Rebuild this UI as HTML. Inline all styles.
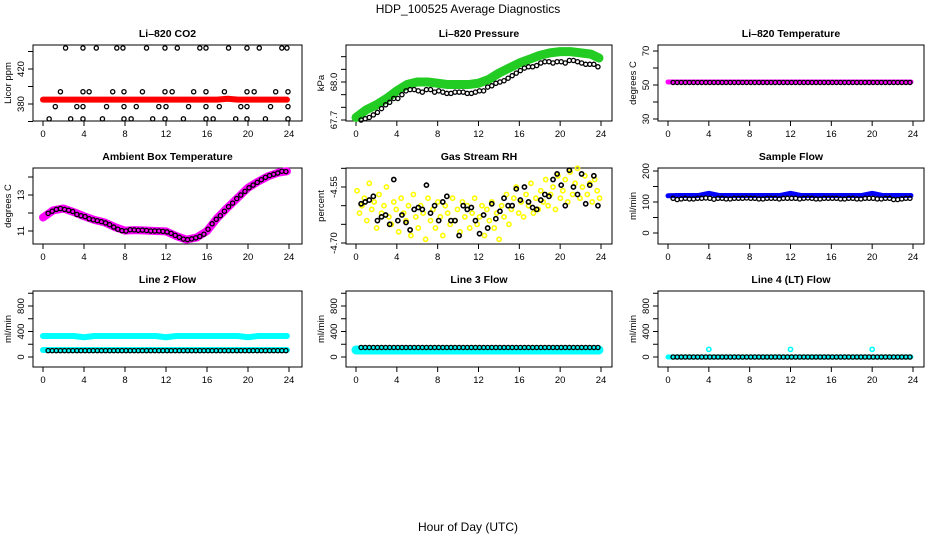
<!DOCTYPE html>
<html><head><meta charset="utf-8"><style>
html,body{margin:0;padding:0;background:#fff;}
svg{display:block;font-family:"Liberation Sans",Arial,sans-serif;}
</style></head><body>
<svg id="chart" width="936" height="540" viewBox="0 0 936 540" xmlns="http://www.w3.org/2000/svg">
<text x="468" y="13" text-anchor="middle" font-size="12">HDP_100525  Average Diagnostics</text>
<text x="468" y="531" text-anchor="middle" font-size="12">Hour of Day (UTC)</text>
</svg>
<script>
const xTicks = [0,4,8,12,16,20,24];
const hrs = []; for (let k = 0; k < 59; k++) hrs.push(+(0.5 + 0.4*k).toFixed(1));
const bandHours = [0,1,2,3,4,5,6,7,8,9,10,11,12,13,14,15,16,17,18,19,20,21,22,23,23.8];

// CO2
const co2Hours = [2.2,3.9,5.2,7.2,7.8,10.1,11.9,13.1,15.3,15.9,18.1,19.9,21.1,23.3,23.8,
 1.7,3.9,4.5,6.8,7.9,9.7,11.9,12.6,14.7,15.9,17.7,19.9,20.6,22.7,23.9,
 1.2,3.3,3.9,6.2,7.9,9.1,11.3,12.0,14.2,15.9,17.2,19.3,19.9,22.2,23.9,
 0.6,2.7,3.9,5.8,7.9,8.6,10.7,11.9,13.7,15.9,16.6,18.8,19.9,21.7,23.9];
const co2Values = [444,444,444,444,444,444,444,444,444,444,444,444,444,444,444,
 394,394,394,394,394,394,394,394,394,394,394,394,394,394,394,
 377,377,377,377,377,377,377,377,377,377,377,377,377,377,377,
 363,363,363,363,363,363,363,363,363,363,363,363,363,363,363];
const co2Band = [385,385,385,385,385,385,385,385,385,385,385,385,385,385,385,385,385,385,386,385,385,385,385,385,385];

// Pressure
const presValues = [67.70,67.71,67.72,67.74,67.76,67.79,67.82,67.84,67.87,67.87,67.90,67.93,67.94,67.94,67.93,67.92,67.94,67.94,67.92,67.93,67.92,67.91,67.91,67.92,67.92,67.92,67.91,67.91,67.92,67.93,67.93,67.96,67.97,67.99,68.00,68.01,68.03,68.05,68.07,68.09,68.11,68.12,68.12,68.13,68.15,68.16,68.16,68.15,68.16,68.16,68.15,68.17,68.17,68.16,68.15,68.14,68.14,68.14,68.12];
const presBand = [67.72,67.78,67.82,67.87,67.93,67.98,68.00,68.00,67.99,67.98,67.98,67.98,67.99,68.02,68.07,68.11,68.15,68.18,68.21,68.23,68.24,68.24,68.23,68.22,68.19];

// Li-820 temperature
const tempValues = [51.5,51.5,51.5,51.5,51.5,51.5,51.5,51.5,51.5,51.5,51.5,51.5,51.5,51.5,51.5,51.5,51.5,51.5,51.5,51.5,51.5,51.5,51.5,51.5,51.5,51.5,51.5,51.5,51.5,51.5,51.5,51.5,51.5,51.5,51.5,51.5,51.5,51.5,51.5,51.5,51.5,51.5,51.5,51.5,51.5,51.5,51.5,51.5,51.5,51.5,51.5,51.5,51.5,51.5,51.5,51.5,51.5,51.5,51.5];
const tempBand = [51.8,51.8,51.8,51.8,51.8,51.8,51.8,51.8,51.8,51.8,51.8,51.8,51.8,51.8,51.8,51.8,51.8,51.8,51.8,51.8,51.8,51.8,51.8,51.8,51.8];

// Ambient box temperature
const ambValues = [11.98,12.10,12.20,12.25,12.20,12.15,12.08,11.92,11.85,11.80,11.68,11.62,11.57,11.52,11.45,11.35,11.22,11.10,11.02,11.00,11.07,11.06,11.04,11.05,11.03,11.00,11.00,11.00,10.98,10.95,10.87,10.76,10.65,10.55,10.52,10.56,10.62,10.70,10.82,11.10,11.40,11.65,11.85,12.10,12.35,12.55,12.80,13.00,13.20,13.40,13.55,13.70,13.85,13.98,14.08,14.15,14.22,14.32,14.30];
const ambBand = [11.75,12.15,12.25,12.05,11.82,11.62,11.48,11.22,11.02,11.05,11.03,11.00,10.98,10.72,10.52,10.64,11.00,11.72,12.30,12.85,13.40,13.75,14.05,14.25,14.32];

// Gas stream RH
const rhValues = [-4.595,-4.59,-4.585,-4.575,-4.64,-4.63,-4.625,-4.65,-4.53,-4.64,-4.625,-4.645,-4.665,-4.61,-4.605,-4.61,-4.545,-4.62,-4.60,-4.64,-4.59,-4.575,-4.64,-4.64,-4.68,-4.60,-4.61,-4.605,-4.64,-4.675,-4.625,-4.66,-4.595,-4.635,-4.615,-4.58,-4.60,-4.60,-4.555,-4.585,-4.55,-4.59,-4.605,-4.61,-4.585,-4.57,-4.575,-4.53,-4.515,-4.545,-4.60,-4.505,-4.55,-4.57,-4.515,-4.595,-4.545,-4.52,-4.60];
const rhYellow = [-4.56,-4.62,-4.60,-4.58,-4.64,-4.54,-4.61,-4.59,-4.66,-4.57,-4.62,-4.60,-4.55,-4.63,-4.65,-4.59,-4.61,-4.67,-4.58,-4.62,-4.64,-4.60,-4.68,-4.57,-4.63,-4.66,-4.60,-4.62,-4.69,-4.58,-4.64,-4.61,-4.66,-4.59,-4.63,-4.68,-4.60,-4.62,-4.65,-4.58,-4.64,-4.61,-4.67,-4.59,-4.63,-4.60,-4.66,-4.62,-4.58,-4.65,-4.63,-4.60,-4.68,-4.61,-4.64,-4.59,-4.66,-4.62,-4.69,-4.60,-4.63,-4.57,-4.65,-4.61,-4.58,-4.55,-4.62,-4.59,-4.63,-4.57,-4.60,-4.54,-4.62,-4.58,-4.61,-4.56,-4.59,-4.53,-4.60,-4.57,-4.55,-4.61,-4.52,-4.58,-4.56,-4.53,-4.59,-4.51,-4.57,-4.54,-4.50,-4.58,-4.55,-4.52,-4.57,-4.54,-4.59,-4.53,-4.56,-4.58];

// Sample flow
const sampleValues = [112,108,110,112,110,110,112,112,113,112,109,112,112,110,110,112,112,112,113,112,112,110,110,112,112,112,110,112,112,112,112,110,112,113,112,110,110,112,112,112,112,110,110,112,112,110,110,112,112,112,110,110,112,112,108,108,110,112,112];
const sampleBand = [120,121,121,121,128,121,121,121,121,121,121,121,128,121,121,121,121,121,121,121,128,121,121,121,121];

// Line flows
const line2Values = [100,100,100,100,100,100,100,100,100,100,100,100,100,100,100,100,100,100,100,100,100,100,100,100,100,100,100,100,100,100,100,100,100,100,100,100,100,100,100,100,100,100,100,100,100,100,100,100,100,100,100,100,100,100,100,100,100,100,100];
const line2BandHigh = [330,330,330,330,310,330,330,330,330,330,330,330,310,330,330,330,330,330,330,330,310,330,330,330,330];
const line2BandLow = [110,110,110,110,110,110,110,110,110,110,110,110,110,110,110,110,110,110,110,110,110,110,110,110,110];
const line3Values = [150,150,150,150,150,150,150,150,150,150,150,150,150,150,150,150,150,150,150,150,150,150,150,150,150,150,150,150,150,150,150,150,150,150,150,150,150,150,150,150,150,150,150,150,150,150,150,150,150,150,150,150,150,150,150,150,150,150,150];
const line3Band = [110,110,110,110,110,110,110,110,110,110,110,110,110,110,110,110,110,110,110,110,110,110,110,110,110];
const line4Values = [0,0,0,0,0,0,0,0,0,0,0,0,0,0,0,0,0,0,0,0,0,0,0,0,0,0,0,0,0,0,0,0,0,0,0,0,0,0,0,0,0,0,0,0,0,0,0,0,0,0,0,0,0,0,0,0,0,0,0];
const line4Band = [0,0,0,0,0,0,0,0,0,0,0,0,0,0,0,0,0,0,0,0,0,0,0,0,0];
const line4BlipHours = [4,12,20];
const line4BlipValues = [120,120,120];

const yTicks = {
  co2: [360,380,400,420,440], co2Lab: ['380','420'],
  pres: [67.7,67.8,67.9,68.0,68.1,68.2], presLab: ['67.7','68.0'],
  temp: [30,40,50,60,70], tempLab: ['30','50','70'],
  amb: [11,12,13,14], ambLab: ['11','13'],
  rh: [-4.70,-4.65,-4.60,-4.55,-4.50], rhLab: ['-4.55','-4.70'],
  samp: [0,50,100,150,200], sampLab: ['0','100','200'],
  flow: [0,200,400,600,800,1000], flowLab: ['0','400','800']
};

const svg = document.getElementById('chart');
const NS = 'http://www.w3.org/2000/svg';
function mk(tag, attrs, parent) {
  const e = document.createElementNS(NS, tag);
  for (const k in attrs) e.setAttribute(k, attrs[k]);
  (parent || svg).appendChild(e);
  return e;
}
const cols = [{x0:43,x24:289,L:33,R:302},{x0:356,x24:601,L:346,R:612},{x0:668,x24:913,L:658,R:924}];
const rows = [{T:45,B:121},{T:168,B:244},{T:291,B:367}];

function panel(name, c, r, title, ylab, cal, ticks, labs) {
  const C = cols[c], Rw = rows[r];
  const g = mk('g', {});
  
  
  const sx = h => C.x0 + h * (C.x24 - C.x0) / 24;
  const sy = v => cal[1] + (v - cal[0]) * (cal[3] - cal[1]) / (cal[2] - cal[0]);
  const box = mk('rect', {x:C.L, y:Rw.T, width:C.R-C.L, height:Rw.B-Rw.T, fill:'none', stroke:'#000', 'stroke-width':1}, g);
  
  
  const t = mk('text', {x:(C.L+C.R)/2, y:Rw.T-8, 'text-anchor':'middle', 'font-size':10.5, 'font-weight':'bold'}, g);
  t.textContent = title;
  
  
  const xa = mk('g', {}, g);
  
  
  xTicks.forEach(h => {
    mk('line', {x1:sx(h), x2:sx(h), y1:Rw.B, y2:Rw.B+5, stroke:'#000'}, xa);
    const tl = mk('text', {x:sx(h), y:Rw.B+16, 'text-anchor':'middle', 'font-size':9.5}, xa);
    tl.textContent = String(h);
  });
  const ya = mk('g', {}, g);
  
  
  ticks.forEach(v => {
    const y = sy(v);
    if (y < Rw.T - 1 || y > Rw.B + 1) return;
    mk('line', {x1:C.L-5, x2:C.L, y1:y, y2:y, stroke:'#000'}, ya);
  });
  labs.forEach(s => {
    const y = sy(parseFloat(s));
    const tl = mk('text', {x:C.L-9, y:y, 'text-anchor':'middle', 'font-size':9.5, transform:`rotate(-90 ${C.L-9} ${y})`}, ya);
    tl.textContent = s;
  });
  const yl = mk('text', {x:C.L-22, y:(Rw.T+Rw.B)/2, 'text-anchor':'middle', 'font-size':9.5, transform:`rotate(-90 ${C.L-22} ${(Rw.T+Rw.B)/2})`}, g);
  yl.textContent = ylab;
  
  
  return {g, sx, sy};
}
function band(p, name, hs, vs, color, w) {
  const pts = hs.map((h,i) => p.sx(h) + ',' + p.sy(vs[i])).join(' ');
  const l = mk('polyline', {points:pts, fill:'none', stroke:color, 'stroke-width':w, 'stroke-linejoin':'round', 'stroke-linecap':'round'}, p.g);
  
  
}
function dots(p, name, hs, vs, color, sw) {
  const gg = mk('g', {}, p.g);
  
  
  const n = Math.min(hs.length, vs.length);
  for (let i = 0; i < n; i++) {
    mk('circle', {cx:p.sx(hs[i]), cy:p.sy(vs[i]), r:2.1, fill:'none', stroke:color, 'stroke-width':sw || 1.3}, gg);
  }
}
const yellowHours = []; for (let k = 0; k < 100; k++) yellowHours.push(+(0.1 + 0.24*k).toFixed(2));

let p;
p = panel('co2', 0, 0, 'Li\u2013820 CO2', 'Licor ppm', [380,104,420,69], yTicks.co2, yTicks.co2Lab);
band(p, 'co2-band-series', bandHours, co2Band, '#ff0000', 6);
dots(p, 'co2-points', co2Hours, co2Values, '#000');

p = panel('pressure', 1, 0, 'Li\u2013820 Pressure', 'kPa', [67.7,120,68.0,82], yTicks.pres, yTicks.presLab);
band(p, 'pressure-band-series', bandHours, presBand, '#22cc22', 9);
dots(p, 'pressure-points', hrs, presValues, '#000');

p = panel('temperature', 2, 0, 'Li\u2013820 Temperature', 'degrees C', [30,119,70,51], yTicks.temp, yTicks.tempLab);
band(p, 'temperature-band-series', bandHours, tempBand, '#ff00ff', 5);
dots(p, 'temperature-points', hrs, tempValues, '#000');

p = panel('ambient', 0, 1, 'Ambient Box Temperature', 'degrees C', [11,231,13,195], yTicks.amb, yTicks.ambLab);
band(p, 'ambient-band-series', bandHours, ambBand, '#ff00ff', 8);
dots(p, 'ambient-points', hrs, ambValues, '#000');

p = panel('rh', 1, 1, 'Gas Stream RH', 'percent', [-4.70,243,-4.55,187], yTicks.rh, yTicks.rhLab);
dots(p, 'rh-yellow-points', yellowHours, rhYellow, '#ffff00', 1.6);
dots(p, 'rh-points', hrs, rhValues, '#000', 1.6);

p = panel('sample-flow', 2, 1, 'Sample Flow', 'ml/min', [0,233,200,171], yTicks.samp, yTicks.sampLab);
band(p, 'sample-flow-band-series', bandHours, sampleBand, '#0000ff', 5);
dots(p, 'sample-flow-points', hrs, sampleValues, '#000');

p = panel('line2', 0, 2, 'Line 2 Flow', 'ml/min', [0,357,800,306], yTicks.flow, yTicks.flowLab);
band(p, 'line2-high-band-series', bandHours, line2BandHigh, '#00ffff', 6);
band(p, 'line2-low-band-series', bandHours, line2BandLow, '#00ffff', 6);
dots(p, 'line2-points', hrs, line2Values, '#000');

p = panel('line3', 1, 2, 'Line 3 Flow', 'ml/min', [0,357,800,306], yTicks.flow, yTicks.flowLab);
band(p, 'line3-band-series', bandHours, line3Band, '#00ffff', 9);
dots(p, 'line3-points', hrs, line3Values, '#000');

p = panel('line4', 2, 2, 'Line 4 (LT) Flow', 'ml/min', [0,357,800,306], yTicks.flow, yTicks.flowLab);
band(p, 'line4-band-series', bandHours, line4Band, '#00ffff', 5);
dots(p, 'line4-blips', line4BlipHours, line4BlipValues, '#00ffff', 1.6);
dots(p, 'line4-points', hrs, line4Values, '#000');
</script>
</body></html>
